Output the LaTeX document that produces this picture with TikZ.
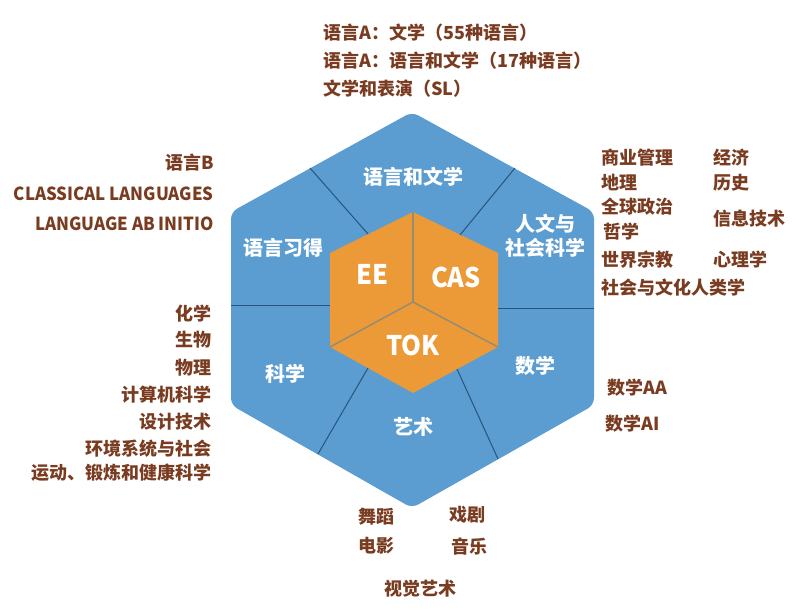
\documentclass[tikz,border=0pt]{standalone}
\usepackage{fontspec}
\setmainfont{Noto Sans CJK SC}
\newfontfamily\narrowfont{Noto Sans CJK SC}[FakeStretch=0.94]
\usetikzlibrary{positioning}
\definecolor{ibBlue}{RGB}{91,157,208}
\definecolor{ibOrange}{RGB}{236,153,55}
\definecolor{ibBrown}{RGB}{122,60,33}
\definecolor{ibDivider}{RGB}{40,85,125}
\definecolor{ibCube}{RGB}{150,140,115}
\tikzset{%
  % Specifications for style of nodes:
    subject/.style = {inner sep=0pt, text height=15.8pt, text depth=2.2pt, text=ibBrown,
                      font=\bfseries\fontsize{18}{20}\selectfont},
    subjectLeft/.style = {subject, anchor=east},
    subjectRight/.style = {subject, anchor=west},
    latinLeft/.style = {subjectLeft, font=\narrowfont\bfseries\fontsize{18}{20}\selectfont},
    groupLabel/.style = {inner sep=0pt, text=white, align=center,
                         font=\bfseries\fontsize{20}{24}\selectfont},
    coreLabel/.style = {inner sep=0pt, text=white,
                        font=\narrowfont\bfseries\fontsize{27}{28}\selectfont},
    divider/.style = {draw=ibDivider, line width=1pt},
    cubeEdge/.style = {draw=ibCube, line width=1.5pt},
}
\begin{document}
\begin{tikzpicture}[x=1pt, y=-1pt]
  \useasboundingbox (0,0) rectangle (800,615);

  % outer hexagon
  \coordinate (outerTop) at (412,112);
  \coordinate (outerUR)  at (594,212);
  \coordinate (outerLR)  at (594,405);
  \coordinate (outerBot) at (412,508);
  \coordinate (outerLL)  at (231,405);
  \coordinate (outerUL)  at (231,212);
  \fill[ibBlue, rounded corners=7pt] (outerTop) -- (outerUR) -- (outerLR) -- (outerBot)
        -- (outerLL) -- (outerUL) -- cycle;

  % inner hexagon (cube)
  \coordinate (innerTop) at (413,212);
  \coordinate (innerUR)  at (498,253);
  \coordinate (innerLR)  at (498,347);
  \coordinate (innerBot) at (413,393);
  \coordinate (innerLL)  at (330,347);
  \coordinate (innerUL)  at (330,253);
  \coordinate (innerMid) at (413,302);
  \fill[ibOrange] (innerTop) -- (innerUR) -- (innerLR) -- (innerBot)
        -- (innerLL) -- (innerUL) -- cycle;

  \coordinate (auxNode1)  at (310,168);
  \coordinate (auxNode1a) at (368,234);
  \coordinate (auxNode2)  at (515,168);
  \coordinate (auxNode2a) at (460,235);
  \coordinate (auxNode3)  at (231,305);
  \coordinate (auxNode3a) at (330,305);
  \coordinate (auxNode4)  at (498,308);
  \coordinate (auxNode4a) at (594,308);
  \coordinate (auxNode5)  at (368,368);
  \coordinate (auxNode5a) at (318,454);
  \coordinate (auxNode6)  at (457,369);
  \coordinate (auxNode6a) at (498,459);

  % Specification of lines between nodes
  \draw[divider]      (auxNode1) -- (auxNode1a);
  \draw[divider]      (auxNode2) -- (auxNode2a);
  \draw[divider]      (auxNode3) -- (auxNode3a);
  \draw[divider]      (auxNode4) -- (auxNode4a);
  \draw[divider]      (auxNode5) -- (auxNode5a);
  \draw[divider]      (auxNode6) -- (auxNode6a);
  \draw[cubeEdge]     (innerMid) -- (innerTop);
  \draw[cubeEdge]     (innerMid) -- (innerLL);
  \draw[cubeEdge]     (innerMid) -- (innerLR);

  % labels inside the hexagon
  \node (langLit)     [groupLabel] at (413,177) {语言和文学};
  \node (humanities)  [groupLabel] at (545,236) {人文与\\社会科学};
  \node (langAcq)     [groupLabel] at (283,248) {语言习得};
  \node (science)     [groupLabel] at (285,374) {科学};
  \node (maths)       [groupLabel] at (535,366) {数学};
  \node (arts)        [groupLabel] at (413,427) {艺术};
  \node (coreEE)      [coreLabel]  at (372,274) {EE};
  \node (coreCAS)     [coreLabel]  at (456,277) {CAS};
  \node (coreTOK)     [coreLabel]  at (413,345) {TOK};

  % language and literature
  \node (litA)        [subjectRight] at (323,33) {语言A：文学（55种语言）};
  \node (langLitA)    [subjectRight] at (323,61) {语言A：语言和文学（17种语言）};
  \node (litPerf)     [subjectRight] at (323,89) {文学和表演（SL）};

  % language acquisition
  \node (langB)       [subjectLeft] at (214,163) {语言B};
  \node (classical)   [latinLeft]   at (214,194) {CLASSICAL LANGUAGES};
  \node (abInitio)    [latinLeft]   at (214,224) {LANGUAGE AB INITIO};

  % individuals and societies
  \node (business)    [subjectRight] at (601,158) {商业管理};
  \node (geography)   [subjectRight] at (601,183) {地理};
  \node (politics)    [subjectRight] at (601,207) {全球政治};
  \node (philosophy)  [subjectRight] at (603,232) {哲学};
  \node (religions)   [subjectRight] at (601,260) {世界宗教};
  \node (anthropology)[subjectRight] at (601,288) {社会与文化人类学};
  \node (economics)   [subjectRight] at (713,158) {经济};
  \node (history)     [subjectRight] at (713,183) {历史};
  \node (itgs)        [subjectRight] at (713,219) {信息技术};
  \node (psychology)  [subjectRight] at (713,260) {心理学};

  % sciences
  \node (chemistry)   [subjectLeft] at (212,314) {化学};
  \node (biology)     [subjectLeft] at (212,340) {生物};
  \node (physics)     [subjectLeft] at (212,368) {物理};
  \node (compSci)     [subjectLeft] at (212,395) {计算机科学};
  \node (design)      [subjectLeft] at (212,422) {设计技术};
  \node (ess)         [subjectLeft] at (212,449) {环境系统与社会};
  \node (sport)       [subjectLeft] at (212,473) {运动、锻炼和健康科学};

  % mathematics
  \node (mathAA)      [subjectRight] at (607,388) {数学AA};
  \node (mathAI)      [subjectRight] at (605,424) {数学AI};

  % the arts
  \node (dance)       [subjectRight] at (358,517) {舞蹈};
  \node (theatre)     [subjectRight] at (449,515) {戏剧};
  \node (film)        [subjectRight] at (358,546) {电影};
  \node (music)       [subjectRight] at (451,547) {音乐};
  \node (visualArts)  [subject]      at (420,589) {视觉艺术};
\end{tikzpicture}
\end{document}
